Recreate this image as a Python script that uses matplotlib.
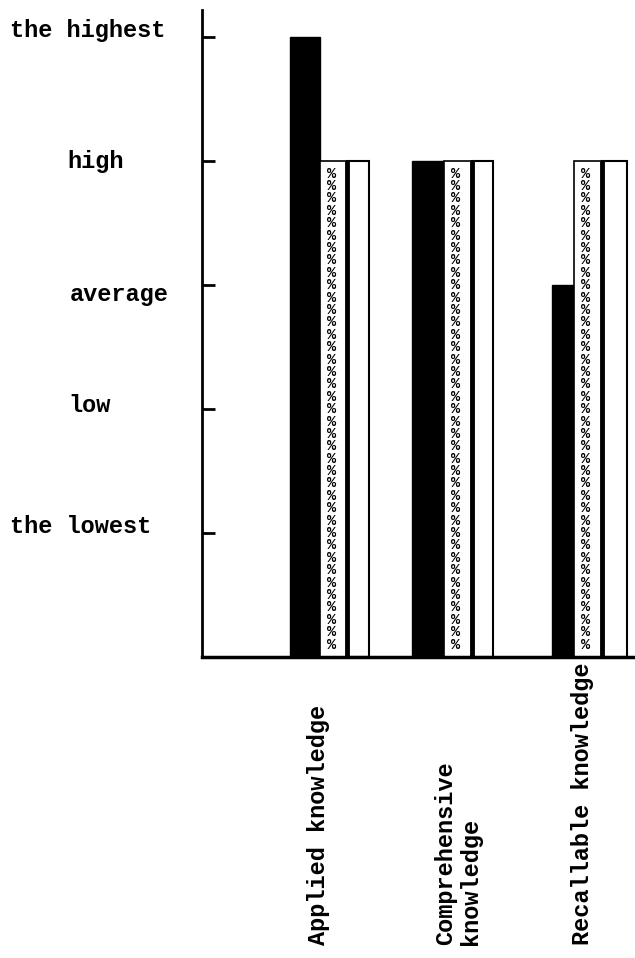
import numpy as np
import matplotlib
matplotlib.use('Agg')
import matplotlib.pyplot as plt

plt.rcParams['font.family'] = ['Liberation Mono', 'DejaVu Sans Mono']

# Data
categories = ['Applied knowledge', 'Comprehensive\nknowledge', 'Recallable knowledge']
level_names = ['the lowest', 'low', 'average', 'high', 'the highest']
level_values = [1, 2, 3, 4, 5]
black_values = [5, 4, 3]
hatched_values = [4, 4, 4]
white_values = [4, 4, 4]

# Layout (x in units of 100 px, starting at the y axis)
group_left = [0.88, 2.10, 3.50]
label_x = [1.16, 2.56, 3.80]
w_black = [0.30, 0.32, 0.22]
w_hatch = [0.27, 0.28, 0.28]
w_white = [0.22, 0.21, 0.25]
level_label_x = [10, 68, 70, 67, 10]        # px from left edge of figure
level_label_dy = [7, 4, -9, 0, 7]            # px, positive = up
glyph_step = 0.1                             # vertical pitch of the typed pattern

fig = plt.figure(figsize=(6.35, 9.58), dpi=100)
ax = fig.add_axes([202 / 635, 301 / 958, 433 / 635, 647 / 958])
ax.set_xlim(0, 4.33)
ax.set_ylim(0, 5.22)

for i in range(len(categories)):
    x0 = group_left[i]
    # black bar
    ax.bar(x0, black_values[i], width=w_black[i], align='edge', color='black',
           edgecolor='black', linewidth=1)
    # patterned bar: column of typed glyphs with a heavy right rule
    xh = x0 + w_black[i]
    ax.bar(xh, hatched_values[i], width=w_hatch[i], align='edge', color='white',
           edgecolor='black', linewidth=1.2)
    ax.vlines(xh + w_hatch[i], 0, hatched_values[i], color='black', linewidth=3.5)
    for yy in np.arange(hatched_values[i] - 0.1, 0.04, -glyph_step):
        ax.text(xh + 0.12, yy, '%', fontsize=11, fontweight='bold',
                ha='center', va='center', color='black')
    # white bar
    xw = xh + w_hatch[i]
    ax.bar(xw, white_values[i], width=w_white[i], align='edge', color='white',
           edgecolor='black', linewidth=1.5)

# axes styling
for s in ['top', 'right']:
    ax.spines[s].set_visible(False)
ax.spines['left'].set_linewidth(2)
ax.spines['bottom'].set_linewidth(2.5)
ax.set_yticks(level_values)
ax.set_yticklabels([])
ax.tick_params(axis='y', direction='in', length=9, width=2)
ax.set_xticks([])

for name, v, lx, dy in zip(level_names, level_values, level_label_x, level_label_dy):
    ax.annotate(name, xy=(lx / 635, v), xycoords=('figure fraction', 'data'),
                xytext=(0, dy * 0.72), textcoords='offset points',
                fontsize=17, fontweight='bold', ha='left', va='center',
                annotation_clip=False)

for cat, lx in zip(categories, label_x):
    ax.annotate(cat, xy=(lx, 13 / 958), xycoords=('data', 'figure fraction'),
                fontsize=17, fontweight='bold', rotation=90, ha='center',
                va='bottom', multialignment='left', linespacing=1.1,
                annotation_clip=False)

fig.savefig('out.png', dpi=100)
